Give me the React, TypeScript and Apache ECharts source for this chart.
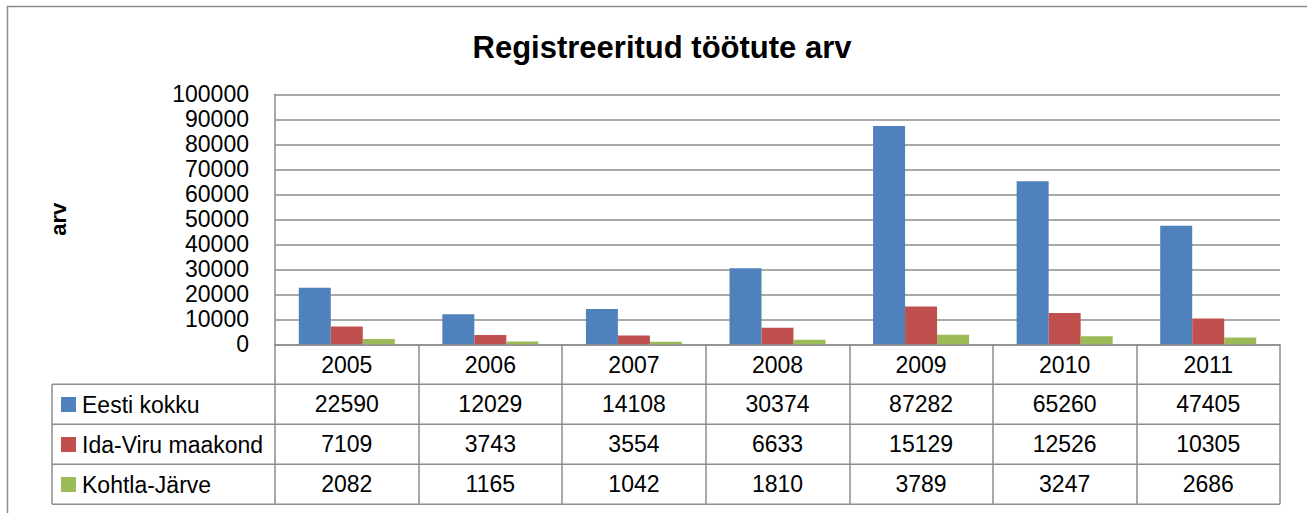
import React, { useEffect, useRef } from "react";
import * as echarts from "echarts";

const title = "Registreeritud töötute arv";
const yAxisName = "arv";
const years = ["2005", "2006", "2007", "2008", "2009", "2010", "2011"];
const seriesNames = ["Eesti kokku", "Ida-Viru maakond", "Kohtla-Järve"];
const eestiKokku = [22590, 12029, 14108, 30374, 87282, 65260, 47405];
const idaViru = [7109, 3743, 3554, 6633, 15129, 12526, 10305];
const kohtlaJarve = [2082, 1165, 1042, 1810, 3789, 3247, 2686];
const colors = ["#4F81BD", "#C0504D", "#9BBB59"];
const yMax = 100000;
const yInterval = 10000;

const FONT = "'Liberation Sans', Arial, sans-serif";
const GRAY = "#8c8c8c";
const FS = 23;

export default function App() {
  const ref = useRef<HTMLDivElement>(null);
  useEffect(() => {
    if (!ref.current) return;
    const chart = echarts.init(ref.current, undefined, { renderer: "svg" });

    const gLeft = 275;
    const gTop = 94.3;
    const gWidth = 1005;
    const gHeight = 250;
    const gBottom = gTop + gHeight;
    const rowH = 40;
    const tableLeft = 52;
    const colW = gWidth / years.length;
    const allSeries = [eestiKokku, idaViru, kohtlaJarve];

    const graphics: any[] = [];
    graphics.push({
      type: "rect",
      shape: { x: 7.5, y: 6.5, width: 1400, height: 700 },
      style: { fill: "none", stroke: GRAY, lineWidth: 1.5 },
      silent: true,
    });
    for (let r = 1; r <= 4; r++) {
      const y = gBottom + r * rowH;
      graphics.push({
        type: "line",
        shape: { x1: tableLeft, y1: y, x2: gLeft + gWidth, y2: y },
        style: { stroke: GRAY, lineWidth: 1.5 },
        silent: true,
      });
    }
    graphics.push({
      type: "line",
      shape: { x1: tableLeft, y1: gBottom + rowH, x2: tableLeft, y2: gBottom + 4 * rowH },
      style: { stroke: GRAY, lineWidth: 1.5 },
      silent: true,
    });
    allSeries.forEach((vals, si) => {
      vals.forEach((v, ci) => {
        graphics.push({
          type: "text",
          x: gLeft + colW * (ci + 0.5),
          y: gBottom + rowH * (si + 1.5),
          style: {
            text: String(v),
            font: `${FS}px ${FONT}`,
            fill: "#000",
            align: "center",
            verticalAlign: "middle",
          },
          silent: true,
        });
      });
    });

    chart.setOption({
      animation: false,
      backgroundColor: "#fff",
      title: {
        text: title,
        left: 657,
        textAlign: "center",
        top: 27,
        textStyle: { fontFamily: FONT, fontSize: 31, fontWeight: "bold", color: "#000" },
      },
      legend: {
        orient: "vertical",
        left: 61,
        top: 393,
        padding: 0,
        itemWidth: 15,
        itemHeight: 15,
        itemGap: 17,
        icon: "rect",
        selectedMode: false,
        data: seriesNames,
        textStyle: { fontFamily: FONT, fontSize: FS, lineHeight: 23, color: "#000", padding: [0, 0, 0, 1] },
      },
      grid: { left: gLeft, top: gTop, width: gWidth, height: gHeight, containLabel: false },
      xAxis: {
        type: "category",
        data: years,
        boundaryGap: true,
        axisLine: { show: true, lineStyle: { color: GRAY, width: 1.5 } },
        axisTick: { show: true, length: 4 * rowH, lineStyle: { color: GRAY, width: 1.5 } },
        axisLabel: { margin: 9, fontFamily: FONT, fontSize: FS, lineHeight: 23, color: "#000" },
      },
      yAxis: {
        type: "value",
        min: 0,
        max: yMax,
        interval: yInterval,
        name: yAxisName,
        nameLocation: "middle",
        nameRotate: 90,
        nameGap: 206,
        nameTextStyle: { fontFamily: FONT, fontSize: 22, fontWeight: "bold", color: "#000" },
        axisLine: { show: true, lineStyle: { color: GRAY, width: 1.5 } },
        axisTick: { show: false },
        axisLabel: {
          margin: 26,
          fontFamily: FONT,
          fontSize: FS,
          color: "#000",
          formatter: (v: number) => String(v),
        },
        splitLine: { show: true, lineStyle: { color: GRAY, width: 1.5 } },
      },
      series: allSeries.map((vals, i) => ({
        name: seriesNames[i],
        type: "bar",
        data: vals,
        barWidth: 32,
        barGap: "0%",
        itemStyle: { color: colors[i] },
      })),
      graphic: graphics,
    });
    return () => chart.dispose();
  }, []);
  return (
    <div
      ref={ref}
      style={{ position: "absolute", left: 0, top: 0, width: 1307, height: 513 }}
    />
  );
}
